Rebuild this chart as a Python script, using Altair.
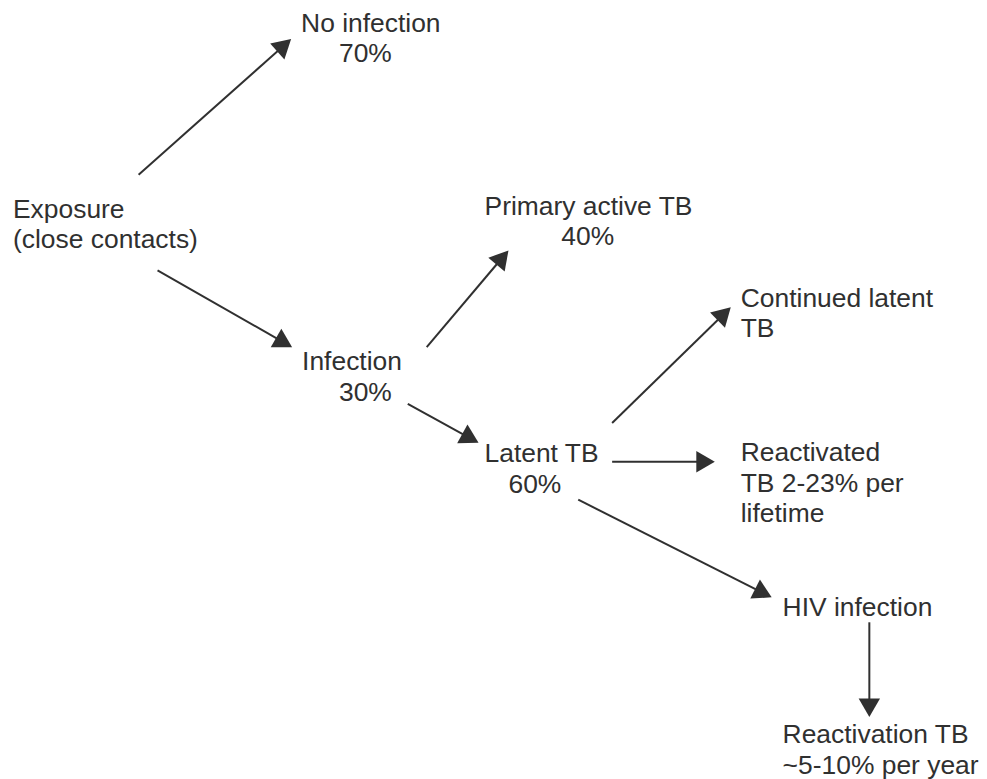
import altair as alt
import pandas as pd

# ---- text lines of the diagram (each line placed at its left edge / baseline) ----
line_text = [
    "No infection", "70%",
    "Exposure", "(close contacts)",
    "Infection", "30%",
    "Primary active TB", "40%",
    "Continued latent", "TB",
    "Latent TB", "60%",
    "Reactivated", "TB 2-23% per", "lifetime",
    "HIV infection",
    "Reactivation TB", "~5-10% per year",
]
line_x = [302, 340, 13, 13, 303, 340, 486, 563, 743, 743, 486, 510, 743, 743, 743, 785, 785, 785]
line_y = [31, 61, 217, 248, 370, 401, 214, 245, 307, 337, 462, 493, 461, 492, 522, 617, 744, 775]

# ---- arrows: start point and tip point ----
arrow_from_x = [139, 158, 428, 409, 614, 614, 580, 872]
arrow_from_y = [174, 270, 347, 404, 423, 462, 500, 623]
arrow_to_x = [292, 293, 510, 480, 733, 717, 774, 872]
arrow_to_y = [38, 347, 250, 443, 307, 462, 598, 718]

W, H = 971, 763
INK = "#303030"
HEAD = 460  # symbol area
HALF = 0.433 * HEAD ** 0.5  # centre-to-apex distance of triangle-up

text_df = pd.DataFrame({"label": line_text, "x": line_x, "y": line_y})
arrow_df = pd.DataFrame({"x1": arrow_from_x, "y1": arrow_from_y,
                         "x2": arrow_to_x, "y2": arrow_to_y})

xs = alt.Scale(domain=[8, 8 + W])
ys = alt.Scale(domain=[8, 8 + H], reverse=True)

arrows = alt.Chart(arrow_df).transform_calculate(
    dx="datum.x2 - datum.x1",
    dy="datum.y2 - datum.y1",
).transform_calculate(
    len="sqrt(datum.dx*datum.dx + datum.dy*datum.dy)",
    ang="(atan2(datum.dx, -datum.dy) * 180 / PI + 360) % 360",
).transform_calculate(
    hx=f"datum.x2 - {HALF} * datum.dx / datum.len",
    hy=f"datum.y2 - {HALF} * datum.dy / datum.len",
)

shafts = arrows.mark_rule(color=INK, strokeWidth=2).encode(
    x=alt.X("x1:Q", scale=xs, axis=None),
    y=alt.Y("y1:Q", scale=ys, axis=None),
    x2="hx:Q",
    y2="hy:Q",
)

heads = arrows.mark_point(shape="triangle-up", filled=True, color=INK,
                          opacity=1, size=HEAD, strokeWidth=0).encode(
    x=alt.X("hx:Q", scale=xs, axis=None),
    y=alt.Y("hy:Q", scale=ys, axis=None),
    angle=alt.Angle("ang:Q", scale=None),
)

labels = alt.Chart(text_df).mark_text(
    align="left", baseline="alphabetic", font="Liberation Sans",
    fontSize=26.5, color=INK,
).encode(
    x=alt.X("x:Q", scale=xs, axis=None),
    y=alt.Y("y:Q", scale=ys, axis=None),
    text="label:N",
)

chart = alt.layer(shafts, heads, labels).properties(
    width=W, height=H, padding=0, background="white"
).configure_view(strokeWidth=0)

chart.save("out.html", embed_options={"renderer": "svg", "actions": False})
